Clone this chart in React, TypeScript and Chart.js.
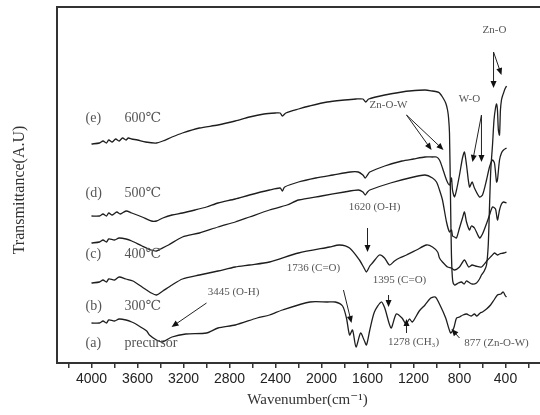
import React, { useEffect, useRef } from 'react';
import { Chart, registerables } from 'chart.js';

Chart.register(...registerables);

// ---- Data: wavenumber (cm-1) and transmittance (arbitrary units) ----
const wnE = [4000, 3930, 3900, 3870, 3850, 3820, 3790, 3760, 3730, 3700, 3680, 3650, 3600, 3530, 3435, 3380, 3300, 3209, 3061, 2900, 2750, 2626, 2500, 2400, 2360, 2340, 2310, 2200, 2104, 1950, 1800, 1700, 1640, 1615, 1590, 1450, 1300, 1235, 1100, 1035, 990, 974, 948, 920, 904, 895, 887, 878, 870, 860, 843, 810, 783, 760, 740, 722, 690, 652, 626, 609, 585, 565, 550, 540, 528, 513, 500, 487, 478, 470, 462, 452, 444, 435, 426, 417, 405, 391];
const tE = [219, 220, 222, 220, 223, 221, 224, 222, 225, 223, 225, 224, 223, 221, 220, 222, 226, 230, 235, 238, 242, 246, 249, 250, 250, 247, 250, 254, 257, 261, 263, 264, 264, 261, 264, 268, 271, 272, 273, 272, 271, 270, 266, 260, 253, 245, 230, 163, 108, 83, 78, 80, 81, 79, 82, 81, 79, 80, 84, 88, 92, 98, 118, 153, 193, 218, 243, 255, 259, 253, 233, 228, 253, 263, 267, 270, 274, 277];

const wnD = [4000, 3930, 3900, 3870, 3850, 3820, 3780, 3750, 3700, 3650, 3560, 3480, 3435, 3380, 3300, 3209, 3100, 3000, 2900, 2750, 2626, 2452, 2360, 2340, 2320, 2200, 2050, 1900, 1750, 1680, 1640, 1620, 1600, 1580, 1450, 1300, 1200, 1100, 1035, 1000, 974, 948, 913, 887, 870, 861, 843, 826, 800, 774, 757, 739, 713, 690, 670, 626, 600, 565, 539, 513, 496, 478, 470, 452, 435, 417, 391];
const tD = [147, 147, 149, 147, 150, 148, 151, 149, 152, 150, 146, 142, 142, 145, 148, 150, 153, 156, 160, 164, 168, 173, 175, 172, 176, 181, 185, 188, 191, 191, 188, 185, 188, 191, 197, 202, 204, 206, 206, 206, 203, 195, 183, 178, 185, 173, 166, 173, 188, 205, 211, 198, 176, 181, 175, 166, 168, 183, 196, 203, 200, 181, 183, 203, 210, 213, 215];

const wnC = [4000, 3930, 3900, 3870, 3850, 3800, 3760, 3700, 3650, 3560, 3480, 3435, 3400, 3330, 3209, 3061, 2900, 2750, 2626, 2452, 2300, 2200, 2000, 1800, 1680, 1640, 1620, 1600, 1580, 1400, 1200, 1100, 1035, 1000, 974, 948, 913, 887, 870, 860, 843, 826, 800, 774, 757, 739, 713, 696, 670, 626, 600, 560, 539, 513, 487, 470, 452, 435, 417, 391];
const tC = [120, 121, 123, 121, 124, 123, 125, 124, 122, 117, 113, 112, 114, 118, 126, 130, 136, 141, 146, 153, 158, 163, 167, 171, 173, 171, 168, 171, 173, 180, 186, 188, 185, 181, 173, 163, 141, 131, 133, 127, 126, 125, 135, 145, 151, 141, 133, 137, 135, 125, 129, 141, 148, 156, 154, 143, 153, 159, 161, 160];

const wnB = [4000, 3930, 3900, 3870, 3850, 3800, 3760, 3700, 3640, 3560, 3480, 3435, 3380, 3300, 3209, 3061, 2900, 2750, 2626, 2452, 2200, 1930, 1843, 1756, 1670, 1630, 1609, 1580, 1557, 1496, 1452, 1409, 1365, 1322, 1261, 1174, 1087, 1035, 990, 974, 948, 904, 870, 843, 800, 757, 720, 690, 660, 609, 556, 522, 496, 470, 452, 417, 391];
const tB = [80, 81, 83, 81, 84, 83, 86, 84, 82, 76, 70, 68, 72, 78, 84, 88, 92, 96, 98, 101, 110, 116, 118, 115, 103, 95, 91, 97, 100, 108, 105, 98, 102, 105, 108, 113, 118, 116, 111, 105, 101, 96, 95, 93, 96, 103, 96, 98, 97, 96, 103, 107, 110, 108, 109, 110, 111];

const wnA = [4000, 3930, 3900, 3870, 3850, 3800, 3760, 3700, 3650, 3600, 3520, 3496, 3435, 3383, 3300, 3180, 3000, 2900, 2750, 2560, 2452, 2339, 2100, 1950, 1880, 1817, 1783, 1756, 1730, 1700, 1660, 1630, 1609, 1580, 1540, 1480, 1450, 1395, 1350, 1300, 1265, 1235, 1210, 1150, 1100, 1050, 1010, 970, 920, 877, 850, 826, 800, 770, 739, 700, 670, 650, 620, 600, 565, 530, 500, 470, 440, 420, 400, 391];
const tA = [40, 40, 42, 40, 43, 42, 44, 43, 41, 38, 32, 28, 23, 21, 26, 29, 30, 35, 38, 45, 48, 53, 61, 61, 61, 57, 45, 28, 33, 16, 30, 23, 18, 33, 51, 61, 55, 35, 49, 45, 39, 44, 41, 52, 58, 65, 66, 58, 45, 30, 35, 45, 46, 48, 49, 47, 49, 47, 50, 51, 54, 58, 63, 68, 69, 71, 67, 66];

// ---- Axis ticks ----
const tickValues = [4200, 4000, 3800, 3600, 3400, 3200, 3000, 2800, 2600, 2400, 2200, 2000, 1800, 1600, 1400, 1200, 1000, 800, 600, 400, 200];
const labelledTicks = [4000, 3600, 3200, 2800, 2400, 2000, 1600, 1200, 800, 400];

// ---- Curve labels ----
const curveTags = ['(e)', '(d)', '(c)', '(b)', '(a)'];
const curveNames = ['600\u2103', '500\u2103', '400\u2103', '300\u2103', 'precursor'];
const curveLabelV = [245, 170, 109, 57, 20];
const tagWn = 4052;
const nameWn = 3713;

// ---- Band annotations ----
const noteTexts = ['3445 (O-H)', '1736 (C=O)', '1620 (O-H)', '1395 (C=O)', '1278 (CH\u2083)', '877 (Zn-O-W)', 'Zn-O-W', 'W-O', 'Zn-O'];
const noteWn = [2765, 2070, 1539, 1322, 1200, 478, 1417, 713, 496];
const noteV = [71, 95, 156, 83, 21, 20, 258, 264, 333];
// arrows: [fromWn, fromV, toWn, toV]
const arrows = [
  [3000, 60, 3304, 36],
  [1809, 73, 1739, 40],
  [1600, 135, 1600, 111],
  [1417, 68, 1417, 56],
  [1261, 30, 1261, 44],
  [800, 25, 870, 34],
  [1261, 248, 1043, 213],
  [1261, 248, 939, 213],
  [609, 248, 687, 201],
  [609, 248, 609, 201],
  [504, 311, 504, 275],
  [504, 311, 435, 288],
];

const xTitle = 'Wavenumber(cm\u207B\u00B9)';
const yTitle = 'Transmittance(A.U)';

const SERIF = "'Liberation Serif', 'DejaVu Serif', serif";

const decorPlugin = {
  id: 'decor',
  afterDatasetsDraw(chart: any) {
    const { ctx, chartArea, scales } = chart;
    const X = (w: number) => scales.x.getPixelForValue(w);
    const Y = (v: number) => scales.y.getPixelForValue(v);
    ctx.save();
    // frame: left and top
    ctx.strokeStyle = '#333';
    ctx.lineWidth = 2;
    ctx.beginPath();
    ctx.moveTo(chartArea.left, chartArea.bottom);
    ctx.lineTo(chartArea.left, chartArea.top);
    ctx.lineTo(chartArea.right, chartArea.top);
    ctx.stroke();

    // curve labels
    ctx.fillStyle = '#555';
    ctx.font = `14px ${SERIF}`;
    ctx.textBaseline = 'middle';
    ctx.textAlign = 'left';
    curveTags.forEach((t, i) => {
      ctx.fillText(t, X(tagWn), Y(curveLabelV[i]));
      ctx.fillText(curveNames[i], X(nameWn), Y(curveLabelV[i]));
    });

    // notes
    ctx.font = `11px ${SERIF}`;
    ctx.textAlign = 'center';
    ctx.fillStyle = '#555';
    noteTexts.forEach((t, i) => {
      ctx.fillText(t, X(noteWn[i]), Y(noteV[i]));
    });

    // arrows
    ctx.strokeStyle = '#222';
    ctx.fillStyle = '#111';
    ctx.lineWidth = 1;
    arrows.forEach(([w1, v1, w2, v2]) => {
      const x1 = X(w1), y1 = Y(v1), x2 = X(w2), y2 = Y(v2);
      const ang = Math.atan2(y2 - y1, x2 - x1);
      const L = 7, H = 3;
      ctx.beginPath();
      ctx.moveTo(x1, y1);
      ctx.lineTo(x2 - Math.cos(ang) * L * 0.8, y2 - Math.sin(ang) * L * 0.8);
      ctx.stroke();
      ctx.beginPath();
      ctx.moveTo(x2, y2);
      ctx.lineTo(x2 - Math.cos(ang) * L - Math.sin(ang) * H, y2 - Math.sin(ang) * L + Math.cos(ang) * H);
      ctx.lineTo(x2 - Math.cos(ang) * L + Math.sin(ang) * H, y2 - Math.sin(ang) * L - Math.cos(ang) * H);
      ctx.closePath();
      ctx.fill();
    });

    // axis titles
    ctx.fillStyle = '#333';
    ctx.font = `15px ${SERIF}`;
    ctx.textAlign = 'center';
    ctx.fillText(xTitle, (chartArea.left + chartArea.right) / 2 + 9, chartArea.bottom + 37);
    ctx.save();
    ctx.font = `16px ${SERIF}`;
    ctx.translate(20, (chartArea.top + chartArea.bottom) / 2 + 5);
    ctx.rotate(-Math.PI / 2);
    ctx.fillText(yTitle, 0, 0);
    ctx.restore();

    ctx.restore();
  },
};

export default function App() {
  const ref = useRef<HTMLCanvasElement>(null);
  useEffect(() => {
    document.body.style.margin = '0';
    const mk = (w: number[], t: number[]) => w.map((x, i) => ({ x, y: t[i] }));
    const series = [
      mk(wnE, tE),
      mk(wnD, tD),
      mk(wnC, tC),
      mk(wnB, tB),
      mk(wnA, tA),
    ];
    const chart = new Chart(ref.current as HTMLCanvasElement, {
      type: 'line',
      data: {
        datasets: series.map((d) => ({
          data: d,
          borderColor: '#1e1e1e',
          borderWidth: 1.3,
          pointRadius: 0,
          tension: 0.25,
          fill: false,
        })),
      },
      options: {
        responsive: false,
        animation: false,
        devicePixelRatio: 1,
        layout: { padding: { left: 57, top: 7, right: 0, bottom: 0 } },
        plugins: { legend: { display: false }, tooltip: { enabled: false } },
        scales: {
          x: {
            type: 'linear',
            reverse: true,
            min: 100,
            max: 4300,
            afterBuildTicks: (scale: any) => {
              scale.ticks = tickValues.map((value) => ({ value }));
            },
            afterFit: (scale: any) => {
              scale.height = 52;
            },
            grid: { drawOnChartArea: false, tickLength: 5, color: '#333', lineWidth: 1.5 },
            border: { color: '#333', width: 2 },
            ticks: {
              autoSkip: false,
              maxRotation: 0,
              padding: 3,
              color: '#222',
              font: { family: "'Liberation Sans', Arial, sans-serif", size: 14 },
              callback: (v: any) => (labelledTicks.includes(Number(v)) ? String(v) : ''),
            },
          },
          y: { display: false, min: 0, max: 356 },
        },
      } as any,
      plugins: [decorPlugin],
    });
    return () => chart.destroy();
  }, []);
  return <canvas ref={ref} width={540} height={415} style={{ display: 'block' }} />;
}
